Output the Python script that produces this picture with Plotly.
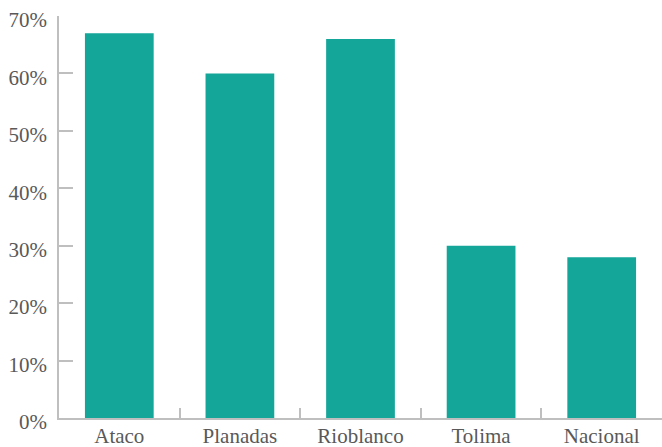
import plotly.graph_objects as go

# Share per municipality (percent)
municipios = ["Ataco", "Planadas", "Rioblanco", "Tolima", "Nacional"]
porcentajes = [67, 60, 66, 30, 28]
y_ticks = [0, 10, 20, 30, 40, 50, 60, 70]

BAR_COLOR = "#15a69a"
AXIS_COLOR = "#bfbfbf"
TEXT_COLOR = "#595959"
FONT = "Liberation Serif, Times New Roman, serif"

fig = go.Figure(
    go.Bar(
        x=municipios,
        y=porcentajes,
        marker=dict(color=BAR_COLOR, line=dict(width=0)),
        width=0.57,
    )
)

fig.update_layout(
    width=662,
    height=447,
    margin=dict(l=59, r=0, t=16, b=29),
    plot_bgcolor="white",
    paper_bgcolor="white",
    showlegend=False,
    font=dict(family=FONT, size=21, color=TEXT_COLOR),
)

fig.update_xaxes(
    type="category",
    range=[-0.5, 4.5],
    automargin=False,
    showline=True,
    linecolor=AXIS_COLOR,
    linewidth=1.5,
    ticks="inside",
    tickson="boundaries",
    ticklen=10,
    tickcolor=AXIS_COLOR,
    tickwidth=1.5,
    showgrid=False,
    ticklabelstandoff=-2,
)

fig.update_yaxes(
    range=[0, 70],
    automargin=False,
    tickvals=y_ticks,
    ticktext=[f"{v}%" for v in y_ticks],
    showline=True,
    linecolor=AXIS_COLOR,
    linewidth=1.5,
    ticks="inside",
    ticklen=14,
    tickcolor=AXIS_COLOR,
    tickwidth=1.5,
    showgrid=False,
    zeroline=False,
    ticklabelstandoff=6,
    ticklabelshift=4,
)

fig.write_html("out.html")
